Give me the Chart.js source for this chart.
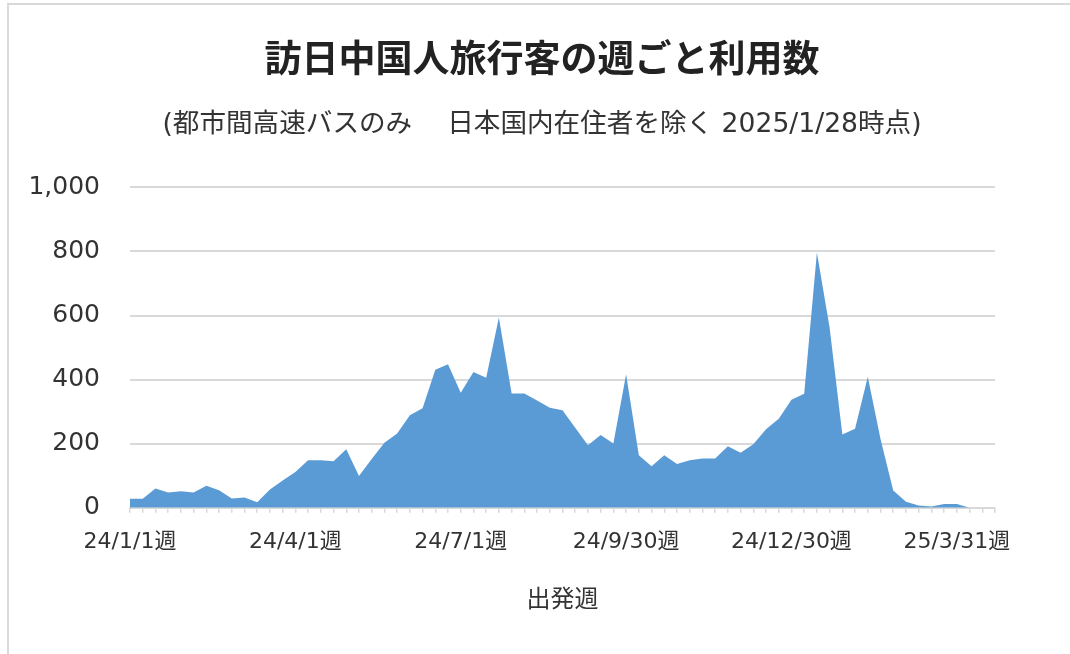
<!DOCTYPE html>
<html lang="ja">
<head>
<meta charset="utf-8">
<title>訪日中国人旅行客の週ごと利用数</title>
<script src="https://cdn.jsdelivr.net/npm/chart.js@4.4.1/dist/chart.umd.min.js"></script>
<style>
  html, body { margin: 0; padding: 0; background: #fff; }
  #wrap { position: relative; width: 1070px; height: 654px; overflow: hidden; }
  #frame { position: absolute; left: 7px; top: 3px; right: -10px; bottom: -10px;
           border-left: 2px solid #d9d9d9; border-top: 2px solid #d9d9d9; }
  #chart { position: absolute; left: 0; top: 0; }
</style>
</head>
<body>
<div id="wrap">
  <div id="frame"></div>
  <canvas id="chart" width="1070" height="654"></canvas>
</div>
<script>
// 出発週 (週の開始日)
const weeks = [
  '24/1/1', '24/1/8', '24/1/15', '24/1/22', '24/1/29',
  '24/2/5', '24/2/12', '24/2/19', '24/2/26',
  '24/3/4', '24/3/11', '24/3/18', '24/3/25',
  '24/4/1', '24/4/8', '24/4/15', '24/4/22', '24/4/29',
  '24/5/6', '24/5/13', '24/5/20', '24/5/27',
  '24/6/3', '24/6/10', '24/6/17', '24/6/24',
  '24/7/1', '24/7/8', '24/7/15', '24/7/22', '24/7/29',
  '24/8/5', '24/8/12', '24/8/19', '24/8/26',
  '24/9/2', '24/9/9', '24/9/16', '24/9/23', '24/9/30',
  '24/10/7', '24/10/14', '24/10/21', '24/10/28',
  '24/11/4', '24/11/11', '24/11/18', '24/11/25',
  '24/12/2', '24/12/9', '24/12/16', '24/12/23', '24/12/30',
  '25/1/6', '25/1/13', '25/1/20', '25/1/27',
  '25/2/3', '25/2/10', '25/2/17', '25/2/24',
  '25/3/3', '25/3/10', '25/3/17', '25/3/24', '25/3/31',
  '25/4/7', '25/4/14', '25/4/21'
];

// 週ごとの利用数
const riders = [
  28, 28, 60, 48, 52, 48, 69, 55, 29, 32, 17, 57, 85,
  112, 148, 148, 145, 183, 99, 152, 203, 232, 289, 311, 431, 448,
  359, 424, 406, 594, 357, 357, 335, 312, 304, 250, 195, 227, 201,
  417, 164, 130, 164, 137, 148, 154, 154, 192, 172, 198, 245, 278,
  337, 356, 797, 562, 229, 247, 409, 215, 54, 19, 7, 4, 12,
  12, 0, null, null
];

// 目盛りを表示する週
const shownWeeks = ['24/1/1', '24/4/1', '24/7/1', '24/9/30', '24/12/30', '25/3/31'];

const yTicks = [0, 200, 400, 600, 800, 1000];

const latin = "'DejaVu Sans', 'Noto Sans CJK JP', sans-serif";

new Chart(document.getElementById('chart'), {
  type: 'line',
  data: {
    labels: weeks,
    datasets: [{
      label: '利用数',
      data: riders,
      fill: 'origin',
      backgroundColor: '#5b9bd5',
      borderColor: 'rgba(0,0,0,0)',
      borderWidth: 1,
      pointRadius: 0,
      tension: 0
    }]
  },
  options: {
    responsive: false,
    animation: false,
    layout: { padding: { left: 14, right: 0, top: 0, bottom: 39 } },
    plugins: {
      legend: { display: false },
      tooltip: { enabled: false },
      title: {
        display: true,
        text: '訪日中国人旅行客の週ごと利用数',
        color: '#222',
        font: { family: "'Noto Sans CJK JP', sans-serif", size: 37, weight: 'bold' },
        padding: { top: 36, bottom: 0 }
      },
      subtitle: {
        display: true,
        text: '(都市間高速バスのみ\u3000 日本国内在住者を除く 2025/1/28時点)',
        color: '#333',
        font: { family: latin, size: 26.6 },
        padding: { top: 29, bottom: 46 }
      }
    },
    scales: {
      x: {
        ticks: {
          autoSkip: false,
          maxRotation: 0,
          color: '#333',
          padding: 16,
          font: { family: latin, size: 22 },
          callback: function (v, i) {
            const w = weeks[i];
            return shownWeeks.includes(w) ? w + '週' : '';
          }
        },
        grid: {
          drawOnChartArea: false,
          drawTicks: true,
          tickLength: 5,
          color: '#d9d9d9',
          lineWidth: 1.5
        },
        border: { display: true, color: '#d9d9d9', width: 2 },
        title: {
          display: true,
          text: '出発週',
          color: '#333',
          font: { family: latin, size: 24 },
          padding: { top: 15, bottom: 0 }
        }
      },
      y: {
        min: 0,
        max: 1000,
        afterBuildTicks: function (s) {
          s.ticks = yTicks.map(v => ({ value: v }));
        },
        afterFit: function (s) { s.width = 116; },
        ticks: {
          color: '#333',
          padding: 30,
          font: { family: latin, size: 25 },
          callback: v => v.toLocaleString('en-US')
        },
        grid: { color: '#d9d9d9', lineWidth: 2, drawTicks: false },
        border: { display: false }
      },
      // 右側の余白用 (表示なし)
      yRight: {
        position: 'right',
        min: 0,
        max: 1000,
        afterFit: function (s) { s.width = 75; },
        ticks: { display: false },
        grid: { display: false },
        border: { display: false }
      }
    }
  }
});
</script>
</body>
</html>
